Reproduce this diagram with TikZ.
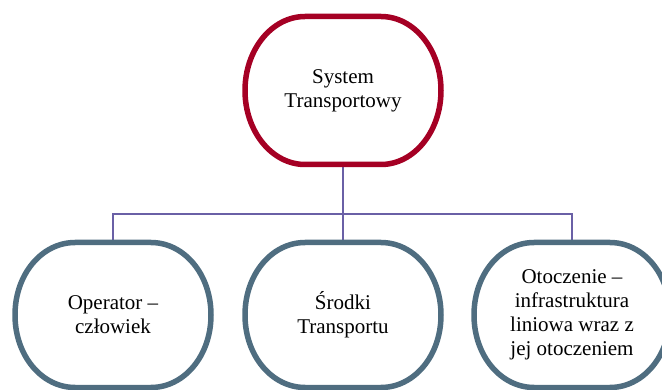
\documentclass[tikz,border=0pt]{standalone}
\usepackage{fontspec}
\setmainfont{Liberation Serif}
\usetikzlibrary{positioning}
\definecolor{topred}{RGB}{165,0,36}
\definecolor{slate}{RGB}{79,109,128}
\definecolor{linkblue}{RGB}{106,96,166}
\tikzset{
	blob/.style={minimum width=196pt,minimum height=145pt,outer sep=0pt,align=center,font=\fontsize{21}{24}\selectfont,inner sep=0pt},
	outline/.style={line width=5.5pt,line join=round},
	link/.style={draw=linkblue,line width=1.4pt}
}

\begin{document}
\begin{tikzpicture}
				\useasboundingbox (0,0) rectangle (662pt,-390pt);
				\node [blob,minimum height=148pt] (sys) at (343pt,-90.5pt) {System\\Transportowy};
				\node [blob,below = 78pt of sys] (srodki) {Środki\\Transportu};
				\node [blob,left = 34pt of srodki] (oper) {Operator --\\człowiek};
				\node [blob,right = 33pt of srodki] (otocz) {Otoczenie --\\infrastruktura\\liniowa wraz z\\jej otoczeniem};
				\coordinate [below = 49.5pt of sys] (bar);
				\draw [link] (sys) -- (bar);
				\foreach \n in {oper,srodki,otocz}
					\draw [link] (bar) -| (\n);
				\foreach \n/\c in {sys/topred,oper/slate,srodki/slate,otocz/slate}
					\draw [outline,draw=\c] ([xshift=60pt]\n.north west) -- ([xshift=-60pt]\n.north east)
						.. controls +(33pt,0) and +(0,41pt) .. (\n.east)
						.. controls +(0,-41pt) and +(33pt,0) .. ([xshift=-60pt]\n.south east)
						-- ([xshift=60pt]\n.south west)
						.. controls +(-33pt,0) and +(0,-41pt) .. (\n.west)
						.. controls +(0,41pt) and +(-33pt,0) .. ([xshift=60pt]\n.north west) -- cycle;
			\end{tikzpicture}
\end{document}
